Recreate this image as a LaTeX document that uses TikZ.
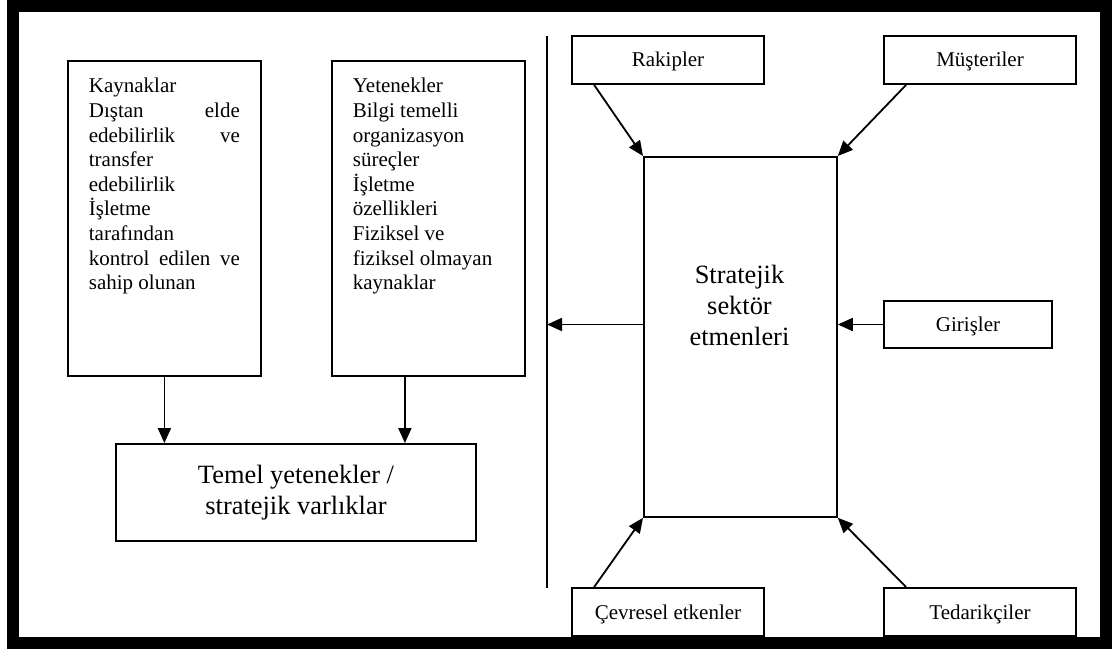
\documentclass[tikz,border=0pt]{standalone}
\usepackage{fontspec}
\setmainfont{Liberation Serif}
\usetikzlibrary{arrows.meta}
\newcommand{\txtf}{\fontsize{21}{24.6}\selectfont}
\newcommand{\bigf}{\fontsize{26.4}{31}\selectfont}
\begin{document}
\begin{tikzpicture}[x=1pt,y=-1pt,
  box/.style={draw, line width=1.8pt, fill=white},
  smallbox/.style={box, font=\txtf, minimum width=192pt, minimum height=48pt,
    inner sep=0pt, text height=14pt, text depth=0pt},
  arr/.style={line width=1.8pt, -{Triangle[length=15pt,width=13pt]}},
  colbox/.style={box, anchor=north west, inner xsep=21pt, inner ysep=0pt}]
\useasboundingbox (0,0) rectangle (1120,650);

% resource and capability columns
\node[colbox] (kay) at (67,60) {\parbox[c][315pt][t]{151pt}{\txtf\raggedright
  \rule{0pt}{32pt}Kaynaklar\\
  Dıştan\hfill elde\\
  edebilirlik\hfill ve\\
  transfer\\
  edebilirlik\\
  İşletme\\
  tarafından\\
  kontrol\hfill edilen\hfill ve\\
  sahip olunan}};
\node[colbox] (yet) at (331,60) {\parbox[c][315pt][t]{151pt}{\txtf\raggedright
  \rule{0pt}{32pt}Yetenekler\\
  Bilgi temelli\\
  organizasyon\\
  süreçler\\
  İşletme\\
  özellikleri\\
  Fiziksel ve\\
  fiziksel olmayan\\
  kaynaklar}};

\node[box, font=\bigf, align=center, minimum width=360pt, minimum height=97pt,
  inner sep=0pt] (tem) at (296,492.5) {Temel yetenekler /\\stratejik varlıklar};

\draw[arr] (kay.south) -- (kay.south |- tem.north);
\draw[arr] ([xshift=-23.5pt]yet.south) -- ([xshift=-23.5pt]yet.south |- tem.north);

% dividing line between firm and sector
\coordinate (vtop) at (547,36);
\coordinate (vbot) at (547,588);
\draw[line width=1.8pt] (vtop) -- (vbot);

% sector factors
\node[box, anchor=north west, minimum width=193pt, minimum height=360pt,
  inner sep=0pt] (sec) at (643,156) {};
\node[font=\bigf, align=center, inner sep=0pt] (sectxt) at (739.5,305)
  {Stratejik\\sektör\\etmenleri};

\node[smallbox] (rak) at (668,60) {Rakipler};
\node[smallbox] (mus) at (980,60) {Müşteriler};
\node[smallbox, minimum width=168pt, minimum height=47pt] (gir) at (968,324.5) {Girişler};
\node[smallbox] (cev) at (668,612) {Çevresel etkenler};
\node[smallbox] (ted) at (980,612) {Tedarikçiler};

\draw[arr] ([xshift=23pt]rak.south west) -- (sec.north west);
\draw[arr] ([xshift=23pt]mus.south west) -- (sec.north east);
\draw[arr] ([xshift=23pt]cev.north west) -- (sec.south west);
\draw[arr] ([xshift=23pt]ted.north west) -- (sec.south east);
\draw[arr] (gir.west) -- (gir.west -| sec.east);
\draw[arr] (sec.west |- gir.west) -- (gir.west -| vtop);

% outer frame
\draw[line width=12pt] (12.5,6) rectangle (1106,642.5);
\end{tikzpicture}
\end{document}
